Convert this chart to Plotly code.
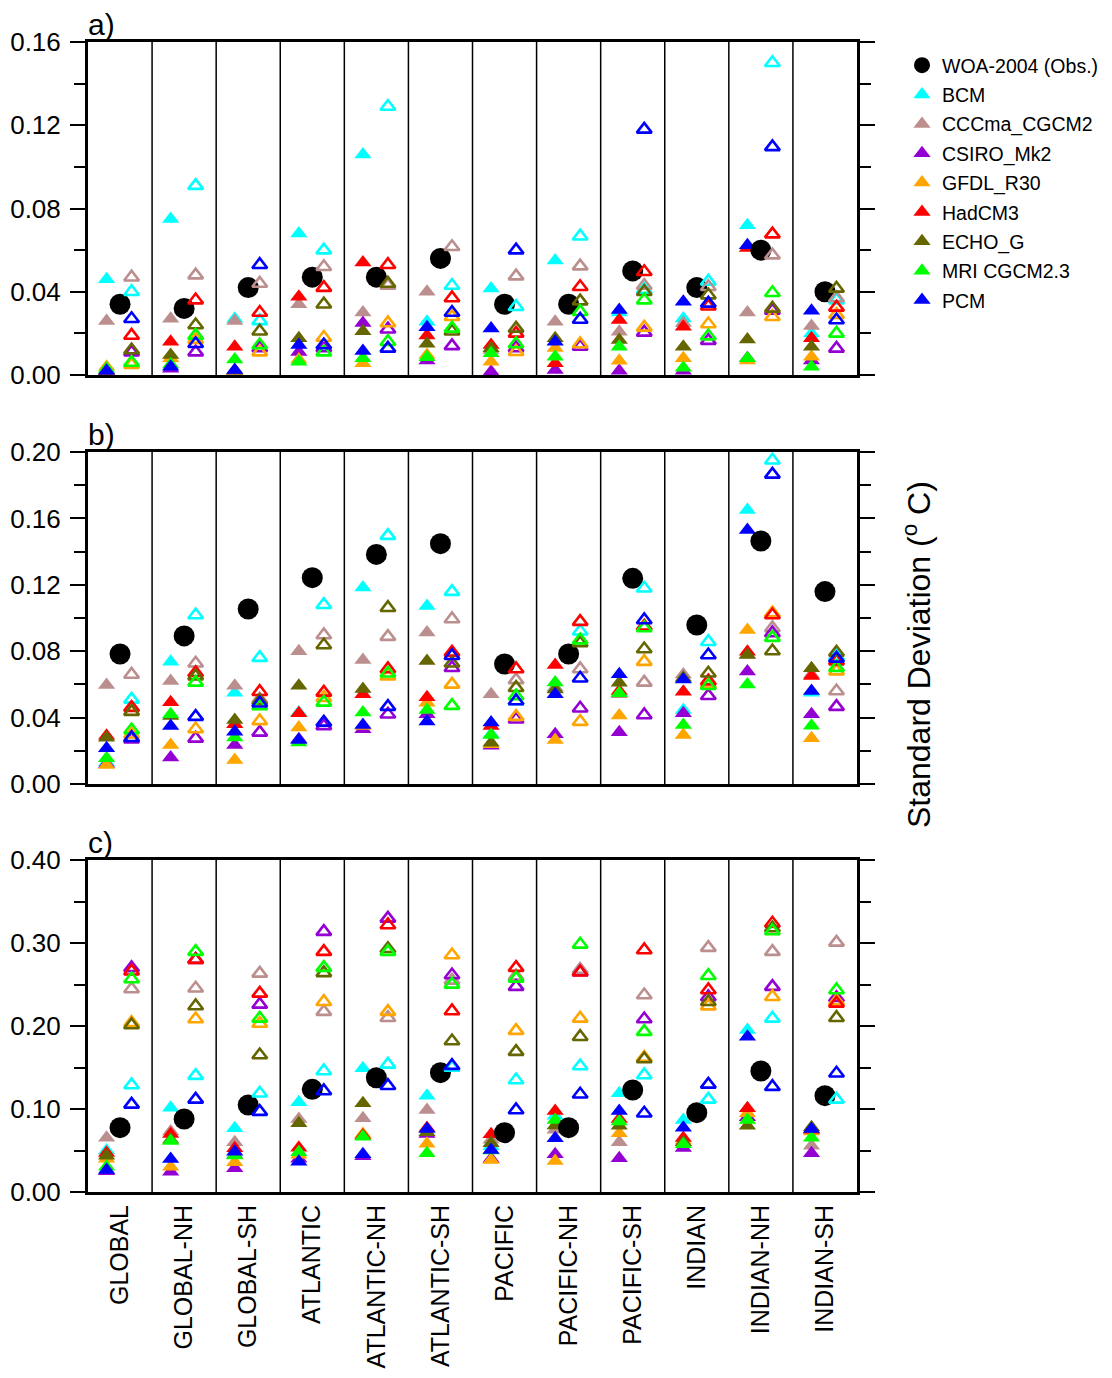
import plotly.graph_objects as go

REGIONS = ["GLOBAL", "GLOBAL-NH", "GLOBAL-SH", "ATLANTIC", "ATLANTIC-NH", "ATLANTIC-SH",
           "PACIFIC", "PACIFIC-NH", "PACIFIC-SH", "INDIAN", "INDIAN-NH", "INDIAN-SH"]
MODELS = ["BCM", "CCCma_CGCM2", "CSIRO_Mk2", "GFDL_R30", "HadCM3", "ECHO_G", "MRI CGCM2.3", "PCM"]
COLORS = ["#00FFFF", "#BC8F8F", "#9400D3", "#FFA500", "#FF0000", "#666600", "#00FF00", "#0000FF"]
OBS_NAME = "WOA-2004 (Obs.)"

# ---------------- panel a ----------------
A_OBS = [0.034, 0.032, 0.042, 0.047, 0.047, 0.056, 0.034, 0.034, 0.050, 0.042, 0.060, 0.040]
A_FILLED = {
    "BCM":         [0.046, 0.075, 0.027, 0.068, 0.106, 0.0256, 0.0416, 0.055, 0.030, 0.0272, 0.072, 0.020],
    "CCCma_CGCM2": [0.026, 0.027, 0.026, 0.034, 0.030, 0.040, 0.012, 0.0256, 0.0208, 0.025, 0.030, 0.0235],
    "CSIRO_Mk2":   [0.001, 0.003, 0.002, 0.011, 0.025, 0.007, 0.0016, 0.0024, 0.0021, 0.002, 0.008, 0.007],
    "GFDL_R30":    [0.004, 0.008, 0.002, 0.0075, 0.0056, 0.0096, 0.0064, 0.013, 0.0069, 0.008, 0.007, 0.0088],
    "HadCM3":      [0.002, 0.016, 0.0136, 0.0376, 0.054, 0.019, 0.0144, 0.0056, 0.0264, 0.0232, 0.061, 0.0176],
    "ECHO_G":      [0.002, 0.0096, 0.002, 0.0176, 0.021, 0.015, 0.0128, 0.0176, 0.0168, 0.0136, 0.0171, 0.0136],
    "MRI CGCM2.3": [0.003, 0.005, 0.0075, 0.0064, 0.008, 0.0085, 0.0104, 0.0088, 0.0136, 0.0035, 0.008, 0.004],
    "PCM":         [0.002, 0.004, 0.0024, 0.0144, 0.0115, 0.023, 0.0224, 0.016, 0.0312, 0.0352, 0.0624, 0.0309],
}
A_OPEN = {
    "BCM":         [0.040, 0.091, 0.026, 0.060, 0.129, 0.043, 0.0328, 0.0667, 0.041, 0.045, 0.150, 0.036],
    "CCCma_CGCM2": [0.047, 0.048, 0.044, 0.052, 0.043, 0.0616, 0.0475, 0.0523, 0.043, 0.0424, 0.0576, 0.037],
    "CSIRO_Mk2":   [0.011, 0.011, 0.013, 0.013, 0.022, 0.014, 0.013, 0.0137, 0.0205, 0.0165, 0.031, 0.0128],
    "GFDL_R30":    [0.005, 0.017, 0.011, 0.018, 0.025, 0.028, 0.0112, 0.0149, 0.0229, 0.0245, 0.028, 0.029],
    "HadCM3":      [0.019, 0.036, 0.030, 0.042, 0.053, 0.037, 0.020, 0.0424, 0.0496, 0.033, 0.0677, 0.0325],
    "ECHO_G":      [0.012, 0.024, 0.021, 0.034, 0.044, 0.021, 0.0224, 0.0355, 0.040, 0.0384, 0.032, 0.0416],
    "MRI CGCM2.3": [0.006, 0.019, 0.0144, 0.011, 0.016, 0.0224, 0.0149, 0.0304, 0.036, 0.0187, 0.0395, 0.020],
    "PCM":         [0.027, 0.015, 0.053, 0.0144, 0.0128, 0.030, 0.060, 0.0267, 0.118, 0.0344, 0.1096, 0.0264],
}

# ---------------- panel b ----------------
B_OBS = [0.0783, 0.0892, 0.1054, 0.1243, 0.1383, 0.1448, 0.0723, 0.0783, 0.1239, 0.0958, 0.1464, 0.1159]
B_FILLED = {
    "BCM":         [0.013, 0.0737, 0.055, 0.043, 0.1183, 0.1072, 0.030, 0.058, 0.055, 0.0446, 0.165, 0.055],
    "CCCma_CGCM2": [0.0596, 0.062, 0.0592, 0.080, 0.0747, 0.0912, 0.054, 0.058, 0.054, 0.066, 0.078, 0.066],
    "CSIRO_Mk2":   [0.012, 0.0159, 0.0235, 0.027, 0.033, 0.042, 0.023, 0.0299, 0.0311, 0.0426, 0.0677, 0.042],
    "GFDL_R30":    [0.0114, 0.0235, 0.0145, 0.034, 0.035, 0.049, 0.024, 0.0265, 0.0412, 0.0295, 0.0928, 0.0275],
    "HadCM3":      [0.029, 0.0492, 0.036, 0.0426, 0.054, 0.0522, 0.035, 0.0717, 0.056, 0.0556, 0.0797, 0.065],
    "ECHO_G":      [0.0279, 0.041, 0.0386, 0.0592, 0.0572, 0.0741, 0.0249, 0.057, 0.061, 0.064, 0.0777, 0.0697],
    "MRI CGCM2.3": [0.0155, 0.042, 0.028, 0.025, 0.043, 0.0446, 0.0295, 0.0612, 0.0546, 0.0355, 0.060, 0.0351],
    "PCM":         [0.0215, 0.035, 0.0315, 0.0265, 0.0355, 0.0376, 0.0371, 0.054, 0.0661, 0.063, 0.153, 0.056],
}
B_OPEN = {
    "BCM":         [0.051, 0.1018, 0.0761, 0.108, 0.1496, 0.1159, 0.050, 0.092, 0.1179, 0.0857, 0.195, 0.077],
    "CCCma_CGCM2": [0.066, 0.0727, 0.051, 0.0898, 0.0888, 0.0994, 0.0627, 0.0693, 0.0612, 0.060, 0.094, 0.056],
    "CSIRO_Mk2":   [0.027, 0.0275, 0.0311, 0.035, 0.042, 0.070, 0.039, 0.0456, 0.0416, 0.0532, 0.091, 0.0466],
    "GFDL_R30":    [0.030, 0.0331, 0.038, 0.052, 0.065, 0.060, 0.0406, 0.0376, 0.0737, 0.060, 0.103, 0.068],
    "HadCM3":      [0.046, 0.067, 0.0556, 0.0552, 0.0693, 0.0793, 0.0693, 0.0978, 0.095, 0.062, 0.1018, 0.074],
    "ECHO_G":      [0.0436, 0.065, 0.050, 0.0837, 0.1062, 0.0727, 0.058, 0.085, 0.0813, 0.0667, 0.0801, 0.0793],
    "MRI CGCM2.3": [0.0325, 0.0612, 0.047, 0.0492, 0.0667, 0.0472, 0.053, 0.0867, 0.094, 0.0592, 0.0882, 0.0701],
    "PCM":         [0.0279, 0.0406, 0.0486, 0.0371, 0.0466, 0.0773, 0.050, 0.0637, 0.0988, 0.0777, 0.1865, 0.0757],
}

# ---------------- panel c ----------------
C_OBS = [0.0775, 0.088, 0.1048, 0.1237, 0.1377, 0.1438, 0.0715, 0.0775, 0.1229, 0.0956, 0.1458, 0.1161]
C_FILLED = {
    "BCM":         [0.050, 0.1016, 0.0767, 0.108, 0.149, 0.116, 0.055, 0.092, 0.1189, 0.0867, 0.1952, 0.075],
    "CCCma_CGCM2": [0.0655, 0.073, 0.060, 0.088, 0.0888, 0.0988, 0.063, 0.075, 0.0598, 0.060, 0.090, 0.0558],
    "CSIRO_Mk2":   [0.025, 0.0245, 0.0285, 0.040, 0.043, 0.070, 0.040, 0.0454, 0.0406, 0.053, 0.090, 0.0466],
    "GFDL_R30":    [0.040, 0.0305, 0.0357, 0.045, 0.070, 0.0582, 0.0386, 0.0373, 0.0707, 0.062, 0.095, 0.073],
    "HadCM3":      [0.047, 0.070, 0.0526, 0.0534, 0.068, 0.077, 0.0695, 0.0976, 0.088, 0.065, 0.1008, 0.075],
    "ECHO_G":      [0.0438, 0.063, 0.045, 0.0827, 0.1068, 0.072, 0.0586, 0.080, 0.0799, 0.060, 0.0799, 0.078],
    "MRI CGCM2.3": [0.0305, 0.0614, 0.044, 0.0478, 0.0667, 0.0466, 0.050, 0.0867, 0.085, 0.0574, 0.0867, 0.0655],
    "PCM":         [0.0265, 0.0398, 0.0486, 0.0365, 0.0454, 0.0759, 0.0506, 0.0647, 0.0976, 0.0775, 0.1871, 0.0759],
}
C_OPEN = {
    "BCM":         [0.129, 0.1402, 0.1189, 0.1458, 0.1538, 0.150, 0.1349, 0.1518, 0.141, 0.1116, 0.2092, 0.1116],
    "CCCma_CGCM2": [0.2446, 0.2454, 0.2634, 0.2173, 0.210, 0.255, 0.260, 0.268, 0.2373, 0.2944, 0.2896, 0.3008],
    "CSIRO_Mk2":   [0.270, 0.280, 0.226, 0.3137, 0.3297, 0.2614, 0.2474, 0.265, 0.2084, 0.235, 0.2474, 0.234],
    "GFDL_R30":    [0.204, 0.2084, 0.203, 0.2293, 0.2173, 0.2855, 0.1944, 0.2092, 0.162, 0.224, 0.2353, 0.230],
    "HadCM3":      [0.266, 0.280, 0.2393, 0.2896, 0.3217, 0.2181, 0.2703, 0.2647, 0.2916, 0.2434, 0.3237, 0.2273],
    "ECHO_G":      [0.2012, 0.2241, 0.165, 0.264, 0.293, 0.1819, 0.1691, 0.1871, 0.1602, 0.2293, 0.318, 0.210],
    "MRI CGCM2.3": [0.2566, 0.2896, 0.2092, 0.2703, 0.2896, 0.2502, 0.2574, 0.2984, 0.1932, 0.2606, 0.3145, 0.2434],
    "PCM":         [0.1056, 0.1116, 0.0968, 0.1217, 0.1281, 0.1522, 0.0988, 0.1177, 0.0948, 0.1297, 0.1269, 0.143],
}

PANEL_LABELS = ["a)", "b)", "c)"]
Y_MAX = [0.16, 0.20, 0.40]
Y_DTICK = [0.04, 0.04, 0.10]
Y_MINOR = [0.02, 0.02, 0.05]
Y_TITLE = "Standard Deviation (<sup>o</sup> C)"

FONT = "Arial, 'Liberation Sans', sans-serif"
W, H = 1112, 1378
BODY = 8                      # default page margin of the html body
PLOT_L, PLOT_R, PLOT_T, PLOT_B = 88, 857, 42, 1192   # page pixels of the plotting area
ML = PLOT_L - BODY
MR = W - (PLOT_R - BODY)
MT = PLOT_T - BODY
MB = H - (PLOT_B - BODY)
PW = PLOT_R - PLOT_L
PH = PLOT_B - PLOT_T
PANEL_PX = [(42, 375), (452, 784), (860, 1192)]
domains = [[1 - (b - PLOT_T) / PH, 1 - (t - PLOT_T) / PH] for t, b in PANEL_PX]

OFF_FILLED = -0.21
OFF_OPEN = 0.18

fig = go.Figure()
panels = [(A_OBS, A_FILLED, A_OPEN), (B_OBS, B_FILLED, B_OPEN), (C_OBS, C_FILLED, C_OPEN)]
xi = list(range(len(REGIONS)))

for p, (obs, filled, opn) in enumerate(panels):
    xa = "x" if p == 0 else f"x{p+1}"
    ya = "y" if p == 0 else f"y{p+1}"
    first = p == 0
    for m, c in zip(MODELS, COLORS):
        fig.add_trace(go.Scatter(
            x=[i + OFF_FILLED for i in xi], y=filled[m], mode="markers", name=m,
            legendgroup=m, showlegend=first, legendrank=2 + MODELS.index(m),
            marker=dict(symbol="triangle-up", size=15, color=c, line=dict(width=0)),
            xaxis=xa, yaxis=ya))
    fig.add_trace(go.Scatter(
        x=xi, y=obs, mode="markers", name=OBS_NAME, legendgroup="obs",
        showlegend=first, legendrank=1,
        marker=dict(symbol="circle", size=21, color="black", line=dict(width=0)),
        xaxis=xa, yaxis=ya))
    for m, c in zip(MODELS, COLORS):
        fig.add_trace(go.Scatter(
            x=[i + OFF_OPEN for i in xi], y=opn[m], mode="markers", name=m,
            legendgroup=m, showlegend=False,
            marker=dict(symbol="triangle-up-open", size=13, color=c, line=dict(width=2.6, color=c)),
            xaxis=xa, yaxis=ya))

axis_common = dict(showline=True, linecolor="black", linewidth=3, mirror=True,
                   showgrid=False, zeroline=False)
for p in range(3):
    xkey = "xaxis" if p == 0 else f"xaxis{p+1}"
    ykey = "yaxis" if p == 0 else f"yaxis{p+1}"
    yanchor = "y" if p == 0 else f"y{p+1}"
    xanchor = "x" if p == 0 else f"x{p+1}"
    xa = dict(axis_common, range=[-0.5, len(REGIONS) - 0.5], domain=[0, 1], anchor=yanchor,
              ticks="", tickvals=xi, ticktext=REGIONS, showticklabels=(p == 2),
              tickangle=-90, tickfont=dict(family=FONT, size=25, color="black"))
    ya = dict(axis_common, range=[0, Y_MAX[p]], domain=domains[p], anchor=xanchor,
              mirror="ticks", ticks="outside", ticklen=15, tickwidth=2, tickcolor="black",
              dtick=Y_DTICK[p], tick0=0, tickformat=".2f", ticklabelstandoff=4,
              tickfont=dict(family=FONT, size=26, color="black"),
              minor=dict(dtick=Y_MINOR[p], tick0=0, ticks="outside", ticklen=11,
                         tickwidth=2, tickcolor="black"))
    fig.update_layout({xkey: xa, ykey: ya})
    # region separators
    for i in range(len(REGIONS) - 1):
        fig.add_shape(type="line", x0=i + 0.5, x1=i + 0.5, y0=0, y1=1,
                      xref=xanchor, yref=f"{yanchor} domain",
                      line=dict(color="black", width=1.5), layer="below")
    fig.add_annotation(text=PANEL_LABELS[p], xref="paper", yref="paper",
                       x=0.0, y=domains[p][1], xanchor="left", yanchor="bottom",
                       showarrow=False, yshift=-1, xshift=-2,
                       font=dict(family=FONT, size=30, color="black"))

fig.add_annotation(text=Y_TITLE, xref="paper", yref="paper",
                   x=(917 - PLOT_L) / PW, y=1 - (655 - PLOT_T) / PH,
                   xanchor="center", yanchor="middle", textangle=-90, showarrow=False,
                   font=dict(family=FONT, size=32, color="black"))

fig.update_layout(
    width=W, height=H,
    margin=dict(l=ML, r=MR, t=MT, b=MB, autoexpand=False),
    paper_bgcolor="white", plot_bgcolor="white",
    font=dict(family=FONT, color="black"),
    legend=dict(x=(902 - PLOT_L) / PW, y=1 - (46 - PLOT_T) / PH,
                xanchor="left", yanchor="top", xref="paper", yref="paper",
                font=dict(family=FONT, size=19.5, color="black"),
                tracegroupgap=1, bgcolor="rgba(0,0,0,0)"),
)

fig.write_html("out.html")
